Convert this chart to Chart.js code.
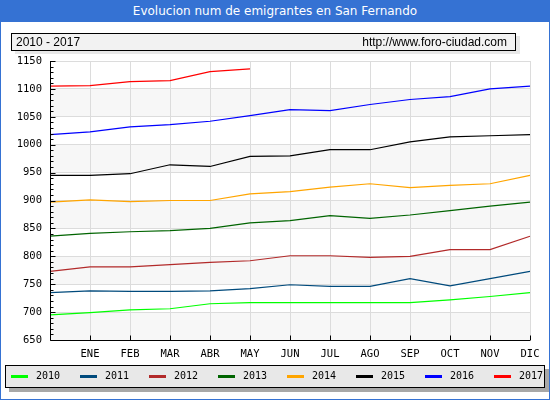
<!DOCTYPE html>
<html>
<head>
<meta charset="utf-8">
<script src="https://cdn.jsdelivr.net/npm/chart.js@4"></script>
<style>
  body { margin: 0; background: #fff; }
  #wrap { position: relative; width: 550px; height: 400px; overflow: hidden; }
  #frame { position: absolute; left: 0; top: 0; width: 548px; height: 398px; border: 1px solid #3572d3; pointer-events: none; }
  #head { position: absolute; left: 0; top: 0; width: 550px; height: 22px; background: #3572d3; color: #fff;
          font: 12px "DejaVu Sans", sans-serif; line-height: 22px; text-align: center; }
  #sub { position: absolute; left: 11px; top: 33px; width: 503px; height: 16px; background: #f2f2f2; border: 1px solid #000;
         box-shadow: 4px 3px 0 #e8e8e8; font: 12px "Liberation Sans", sans-serif; line-height: 16px; }
  #sub .l { position: absolute; left: 4px; }
  #sub .r { position: absolute; right: 8px; }
  #legend { position: absolute; left: 5px; top: 365px; width: 538px; height: 21px; background: #e8e8e8; border: 1px solid #000;
            box-shadow: 4px 4px 0 #a8a8a8; font: 10px "DejaVu Sans Mono", monospace; }
  #legend span.sw { position: absolute; top: 9px; width: 17px; height: 3px; }
  #legend span.tx { position: absolute; top: 4px; }
  canvas { position: absolute; left: 0; top: 0; }
</style>
</head>
<body>
<div id="wrap">
  <canvas id="chart" width="550" height="400"></canvas>
  <div id="head">Evolucion num de emigrantes en San Fernando</div>
  <div id="sub"><span class="l">2010 - 2017</span><span class="r">http://www.foro-ciudad.com</span></div>
  <div id="legend"></div>
  <div id="frame"></div>
</div>
<script>
// meses (el primer punto es diciembre del año anterior)
const months = ['', 'ENE', 'FEB', 'MAR', 'ABR', 'MAY', 'JUN', 'JUL', 'AGO', 'SEP', 'OCT', 'NOV', 'DIC'];
const years = ['2010', '2011', '2012', '2013', '2014', '2015', '2016', '2017'];
const colors = ['#00ff00', '#004a7c', '#b22a2a', '#006400', '#ffa500', '#000000', '#0000ff', '#ff0000'];

const y2010 = [695, 699, 704, 706, 715, 717, 717, 717, 717, 717, 722, 728, 735];
const y2011 = [735, 738, 737, 737, 738, 742, 749, 746, 746, 760, 747, 760, 773];
const y2012 = [773, 781, 781, 785, 789, 792, 801, 801, 798, 800, 812, 812, 836];
const y2013 = [836, 841, 844, 846, 850, 860, 864, 873, 868, 874, 882, 890, 897];
const y2014 = [897, 901, 898, 900, 900, 912, 916, 924, 930, 923, 927, 930, 945];
const y2015 = [945, 945, 948, 964, 961, 979, 980, 991, 991, 1005, 1014, 1016, 1018];
const y2016 = [1018, 1023, 1032, 1036, 1042, 1052, 1063, 1061, 1072, 1081, 1086, 1100, 1105];
const y2017 = [1105, 1106, 1113, 1115, 1131, 1136];

const series = [y2010, y2011, y2012, y2013, y2014, y2015, y2016, y2017];

// leyenda
const legend = document.getElementById('legend');
years.forEach((yr, i) => {
    const x = 5 + i * 69;
    legend.innerHTML += `<span class="sw" style="left:${x}px;background:${colors[i]}"></span>` +
                        `<span class="tx" style="left:${x + 25}px">${yr}</span>`;
});

// bandas grises, ejes y marcas interiores
const decor = {
    id: 'decor',
    beforeDraw(chart) {
        const { ctx, chartArea: a, scales: { y } } = chart;
        ctx.save();
        ctx.fillStyle = '#f7f7f7';
        for (let v = 650; v < 1150; v += 100) {
            const t = y.getPixelForValue(v + 50), b = y.getPixelForValue(v);
            ctx.fillRect(a.left, t, a.right - a.left, b - t);
        }
        ctx.restore();
    },
    afterDatasetsDraw(chart) {
        const { ctx, chartArea: a, scales: { x, y } } = chart;
        ctx.save();
        ctx.strokeStyle = '#000';
        ctx.lineWidth = 1;
        ctx.beginPath();
        const L = Math.round(a.left) + 0.5, B = Math.round(a.bottom) + 0.5;
        ctx.moveTo(L, a.top); ctx.lineTo(L, B); ctx.lineTo(a.right, B);
        for (let v = 650; v <= 1150; v += 10) {
            const p = Math.round(y.getPixelForValue(v)) + 0.5;
            ctx.moveTo(L, p); ctx.lineTo(L + (v % 50 === 0 ? 5 : 3), p);
        }
        for (let i = 1; i < months.length; i++) {
            const p = Math.round(x.getPixelForValue(i)) + 0.5;
            ctx.moveTo(p, B); ctx.lineTo(p, B - 5);
        }
        ctx.stroke();
        ctx.restore();
    }
};

Chart.defaults.font.family = '"DejaVu Sans Mono", monospace';
Chart.defaults.font.size = 10.5;
Chart.defaults.color = '#000';

const ctx = document.getElementById('chart').getContext('2d');
new Chart(ctx, {
    type: 'line',
    data: {
        labels: months,
        datasets: series.map((d, i) => ({
            label: years[i],
            data: d,
            borderColor: colors[i],
            backgroundColor: colors[i],
            borderWidth: 1.2,
            pointRadius: 0,
            tension: 0,
            fill: false
        }))
    },
    options: {
        responsive: false,
        animation: false,
        devicePixelRatio: 1,
        layout: { padding: { top: 61, right: 20, left: 0, bottom: 0 } },
        plugins: { legend: { display: false }, title: { display: false }, tooltip: { enabled: false } },
        scales: {
            x: {
                offset: false,
                grid: { color: '#dcdcdc', drawTicks: false },
                border: { display: false },
                ticks: { padding: 8, maxRotation: 0, autoSkip: false },
                afterFit: s => { s.height = 60; }
            },
            y: {
                min: 650,
                max: 1150,
                grid: { color: '#dcdcdc', drawTicks: false },
                border: { display: false },
                ticks: { stepSize: 50, padding: 8, callback: v => String(v) },
                afterFit: s => { s.width = 50; }
            }
        }
    },
    plugins: [decor]
});
</script>
</body>
</html>
